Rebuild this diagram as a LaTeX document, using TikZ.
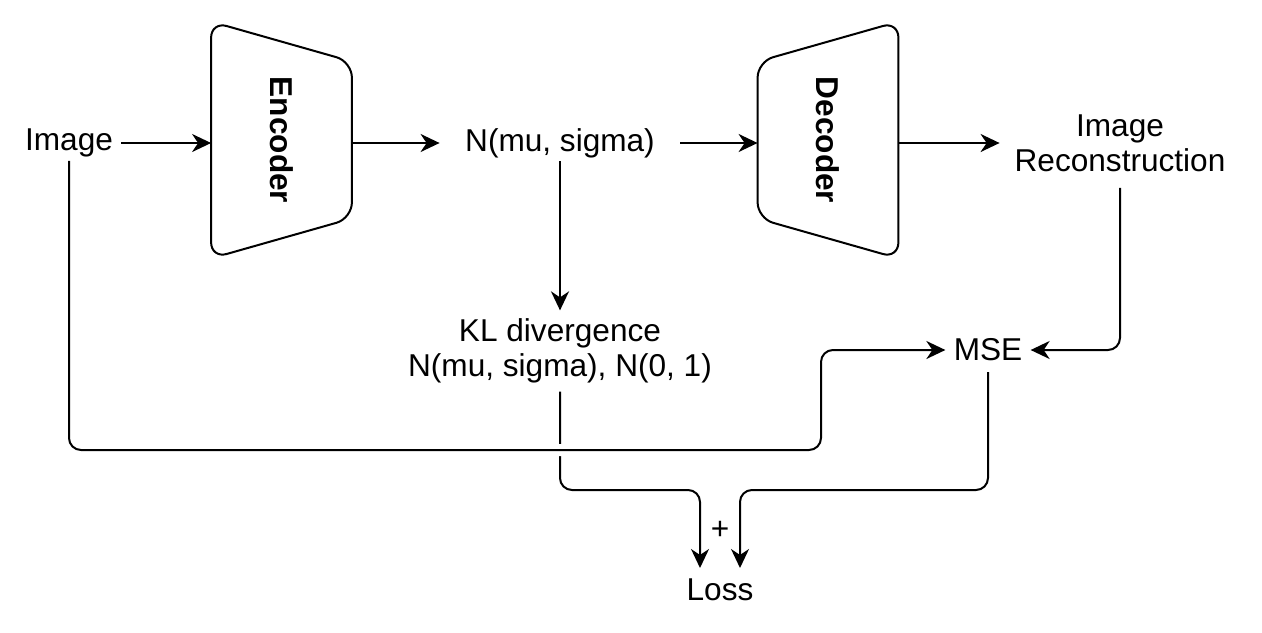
\documentclass[tikz,border=0pt]{standalone}
\usepackage{fontspec}
\setmainfont{Liberation Sans}
\usepackage{graphicx}
\usetikzlibrary{arrows.meta}

\tikzset{
  lbl/.style={font=\fontsize{15.8}{17.5}\selectfont, inner xsep=4pt, inner ysep=1.6pt, align=center},
  coder/.style={font=\fontsize{15.8}{17.5}\selectfont\bfseries, minimum width=70pt, minimum height=118pt, inner sep=0pt},
  line/.style={line width=1pt, rounded corners=6pt},
  arr/.style={line, -{Stealth[length=9.5pt,width=9pt,inset=3pt]}},
}

\begin{document}
\begin{tikzpicture}[x=0.5pt,y=-0.5pt]
    \useasboundingbox (0,0) rectangle (1262,632);

    \node[lbl] (img)  at (69,143) {Image};
    \node[coder] (enc) at (281.5,140) {\rotatebox{-90}{Encoder}};
    \node[lbl, minimum width=120pt] (n) at (560,143) {N(mu, sigma)};
    \node[coder] (dec) at (828,140) {\rotatebox{-90}{Decoder}};
    \node[lbl, minimum width=120pt, inner ysep=8pt] (rec) at (1120,143) {Image\\Reconstruction};
    \node[lbl, inner ysep=4pt] (kl) at (560,351) {KL divergence\\N(mu, sigma), N(0, 1)};
    \node[lbl, inner ysep=5.3pt] (mse)  at (988,350) {MSE};
    \node[lbl, inner ysep=5.3pt] (loss) at (720,590) {Loss};
    \node[lbl] (plus) at (720,530) {+};

    % encoder / decoder outlines
    \draw[line, rounded corners=8pt] (enc.north west) -- ([yshift=-20pt]enc.north east) -- ([yshift=20pt]enc.south east) -- (enc.south west) -- cycle;
    \draw[line, rounded corners=8pt] ([yshift=-20pt]dec.north west) -- (dec.north east) -- (dec.south east) -- ([yshift=20pt]dec.south west) -- cycle;

    \coordinate (imgbend) at (821,450);
    \coordinate (klbend)  at (700,490);
    \coordinate (msebend) at (740,490);

    \draw[arr] (img.east) -- (img.east -| enc.west);
    \draw[arr] (n.west -| enc.east) -- (n.west);
    \draw[arr] (n.east) -- (n.east -| dec.west);
    \draw[arr] (rec.west -| dec.east) -- (rec.west);
    \draw[arr] (n.south) -- (kl.north);
    \draw[arr] (rec.south) |- (mse.east);
    \draw[arr] (kl.south) |- (klbend) -- (klbend |- loss.north);
    \draw[arr] (mse.south) |- (msebend) -- (msebend |- loss.north);
    \draw[arr, preaction={draw=white, line width=6pt, arrows=-}] (img.south) |- (imgbend) |- (mse.west);
\end{tikzpicture}
\end{document}
